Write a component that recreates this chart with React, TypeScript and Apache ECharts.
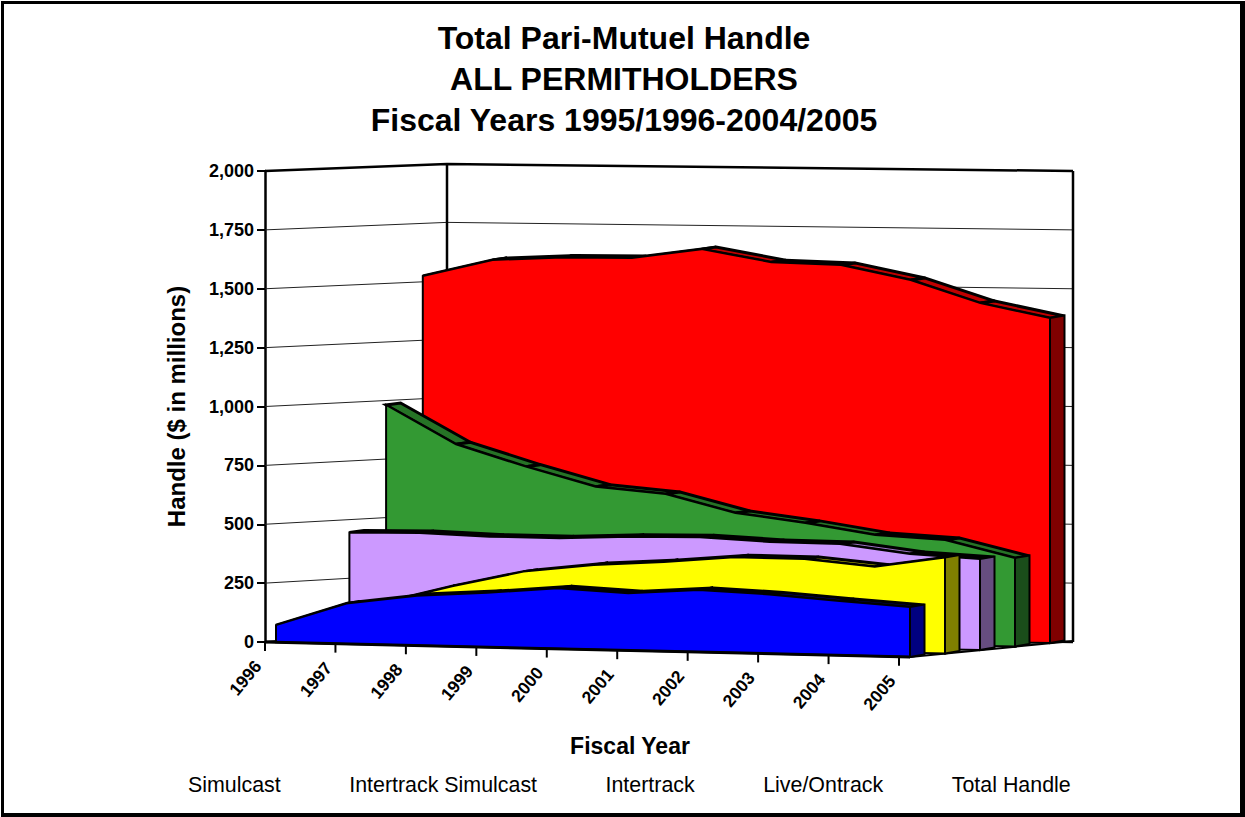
import React, { useEffect, useRef } from "react";
import * as echarts from "echarts";

const years = ["1996", "1997", "1998", "1999", "2000", "2001", "2002", "2003", "2004", "2005"];
const yTicks = [0, 250, 500, 750, 1000, 1250, 1500, 1750, 2000];

const simulcast = [73, 172, 212, 231, 257, 243, 264, 252, 231, 212];
const intertrackSimulcast = [70, 165, 243, 310, 344, 363, 390, 389, 362, 408];
const intertrack = [448, 452, 442, 441, 453, 456, 442, 439, 402, 386];
const liveOntrack = [981, 819, 729, 649, 623, 547, 510, 464, 447, 376];
const totalHandle = [1520, 1592, 1607, 1609, 1651, 1600, 1592, 1533, 1439, 1380];

const FONT = '"Liberation Sans", Arial, sans-serif';
const DX = 14.5;
const DY = -2;

const lerp = (a: number, b: number, t: number) => a + (b - a) * t;

function project(api: any, i: number, d: number, v: number) {
  const c = api.coord([i, v]);
  const zero = api.coord([i, 0])[1];
  const t = i / 9;
  const x = c[0] + 11 + d * (36.7 - 1.7 * t);
  const y = c[1] + lerp(642.3 - 2.1 * d, 657 - 3.5 * d, t) - zero;
  return [x, y];
}

function areaSeries(name: string, values: number[], d: number, front: string, top: string, side: string) {
  return {
    type: "custom",
    name,
    coordinateSystem: "cartesian2d",
    silent: true,
    itemStyle: { color: front },
    z: 3 + (4 - d),
    data: values.map((v, i) => [i, v]),
    renderItem: (params: any, api: any) => {
      if (params.dataIndex !== 0) return { type: "group", children: [] };
      const n = values.length;
      const tops = values.map((v, i) => project(api, i, d, v));
      const bases = values.map((_, i) => project(api, i, d, 0));
      const stroke = { stroke: "#000", lineWidth: 2, lineJoin: "miter" };
      const children: any[] = [];
      for (let i = 0; i < n - 1; i++) {
        const a = tops[i];
        const b = tops[i + 1];
        children.push({
          type: "polygon",
          shape: { points: [a, b, [b[0] + DX, b[1] + DY], [a[0] + DX, a[1] + DY]] },
          style: { fill: top, stroke: "#000", lineWidth: 3, lineJoin: "miter" },
        });
      }
      const tl = tops[n - 1];
      const bl = bases[n - 1];
      children.push({
        type: "polygon",
        shape: { points: [tl, [tl[0] + DX, tl[1] + DY - 0.5], [bl[0] + DX, bl[1] + DY - 0.5], bl] },
        style: { fill: side, ...stroke },
      });
      children.push({
        type: "polygon",
        shape: { points: [...tops, ...bases.slice().reverse()] },
        style: { fill: front, ...stroke },
      });
      return { type: "group", children };
    },
  };
}

const wallSeries = {
  type: "custom",
  name: "walls",
  coordinateSystem: "cartesian2d",
  silent: true,
  z: 1,
  data: yTicks.map((v) => [0, v]),
  renderItem: (_: any, api: any) => {
    const v = api.value(1);
    const y = api.coord([0, v])[1];
    const x0 = api.coord([0, v])[0];
    const yb = 164 + (y - 171) * (467 / 471);
    const thick = v === 2000 || v === 0;
    const style = { stroke: thick ? "#000" : "#222", lineWidth: thick ? 2.5 : 1, fill: "none" };
    const children: any[] = [
      { type: "polyline", shape: { points: [[x0, y], [447, yb], [1073, y]] }, style },
    ];
    if (v === 2000) {
      children.push({ type: "line", shape: { x1: 447, y1: yb, x2: 447, y2: 631 }, style: { stroke: "#000", lineWidth: 2.5 } });
      children.push({ type: "line", shape: { x1: 1073, y1: y, x2: 1073, y2: 642 }, style: { stroke: "#000", lineWidth: 2.5 } });
      children.push({ type: "line", shape: { x1: 1073, y1: 641, x2: 910, y2: 657 }, style: { stroke: "#000", lineWidth: 2 } });
    }
    return { type: "group", children };
  },
};

const floorSeries = {
  type: "custom",
  name: "floor",
  coordinateSystem: "cartesian2d",
  silent: true,
  z: 10,
  data: years.map((_, i) => [i, 0]),
  renderItem: (params: any, api: any) => {
    const i = params.dataIndex;
    const [x, y0] = api.coord([i, 0]);
    const slope = 15 / 645;
    const y = y0 + (x - 265) * slope;
    const children: any[] = [
      { type: "line", shape: { x1: x, y1: y, x2: x, y2: y + 9 }, style: { stroke: "#000", lineWidth: 2 } },
      {
        type: "text",
        x: x - 7,
        y: y + 21,
        rotation: (50 * Math.PI) / 180,
        style: {
          text: years[i],
          font: `bold 17.5px ${FONT}`,
          fill: "#000",
          align: "right",
          verticalAlign: "middle",
        },
      },
    ];
    if (i === 0) {
      children.push({
        type: "line",
        shape: { x1: 265, y1: y0, x2: 910, y2: y0 + 15 },
        style: { stroke: "#000", lineWidth: 3 },
      });
    }
    return { type: "group", children };
  },
};

export default function App() {
  const ref = useRef<HTMLDivElement>(null);
  useEffect(() => {
    const chart = echarts.init(ref.current!, undefined, { renderer: "svg" });
    chart.setOption({
      animation: false,
      backgroundColor: "#fff",
      title: {
        text: "Total Pari-Mutuel Handle\nALL PERMITHOLDERS\nFiscal Years 1995/1996-2004/2005",
        left: 619,
        top: 12,
        textAlign: "center",
        textStyle: { fontFamily: FONT, fontWeight: "bold", fontSize: 32, lineHeight: 41, color: "#000" },
      },
      legend: {
        data: ["Simulcast", "Intertrack Simulcast", "Intertrack", "Live/Ontrack", "Total Handle"],
        left: 183,
        top: 774,
        itemWidth: 0,
        itemHeight: 0,
        itemGap: 63.5,
        selectedMode: false,
        padding: 0,
        textStyle: { fontFamily: FONT, fontSize: 21.4, color: "#000" },
      },
      grid: { left: 265, top: 171, width: 634, height: 471, containLabel: false },
      xAxis: {
        type: "category",
        data: years,
        boundaryGap: false,
        axisLine: { show: false },
        axisTick: { show: false },
        axisLabel: { show: false },
        name: "Fiscal Year",
        nameLocation: "middle",
        nameGap: 92,
        nameTextStyle: {
          fontFamily: FONT,
          fontWeight: "bold",
          fontSize: 23,
          color: "#000",
          padding: [0, 0, 0, 96],
        },
      },
      yAxis: {
        type: "value",
        min: 0,
        max: 2000,
        interval: 250,
        splitLine: { show: false },
        axisLine: { show: true, onZero: false, lineStyle: { color: "#000", width: 2.5 } },
        axisTick: { show: true, length: 8, lineStyle: { color: "#000", width: 2 } },
        axisLabel: {
          fontFamily: FONT,
          fontWeight: "bold",
          fontSize: 18,
          color: "#000",
          margin: 11,
          formatter: (v: number) => v.toLocaleString("en-US"),
        },
        name: "Handle ($ in millions)",
        nameLocation: "middle",
        nameGap: 77,
        nameTextStyle: { fontFamily: FONT, fontWeight: "bold", fontSize: 24, color: "#000" },
      },
      graphic: [
        {
          type: "group",
          silent: true,
          z: -1,
          children: [
            { type: "rect", shape: { x: 1, y: 1, width: 1244, height: 816 }, style: { fill: "#000" } },
            { type: "rect", shape: { x: 4, y: 4, width: 1236, height: 809 }, style: { fill: "#fff" } },
          ],
        },
      ],
      series: [
        wallSeries,
        areaSeries("Total Handle", totalHandle, 4, "#FF0000", "#C00000", "#800000"),
        areaSeries("Live/Ontrack", liveOntrack, 3, "#339933", "#267326", "#1A4D1A"),
        areaSeries("Intertrack", intertrack, 2, "#CC99FF", "#9973BF", "#664D80"),
        areaSeries("Intertrack Simulcast", intertrackSimulcast, 1, "#FFFF00", "#BFBF00", "#808000"),
        areaSeries("Simulcast", simulcast, 0, "#0000FF", "#0000BF", "#000080"),
        floorSeries,
      ],
    });
    return () => chart.dispose();
  }, []);
  return (
    <div
      ref={ref}
      style={{ position: "fixed", left: 0, top: 0, width: 1245, height: 817 }}
    />
  );
}
